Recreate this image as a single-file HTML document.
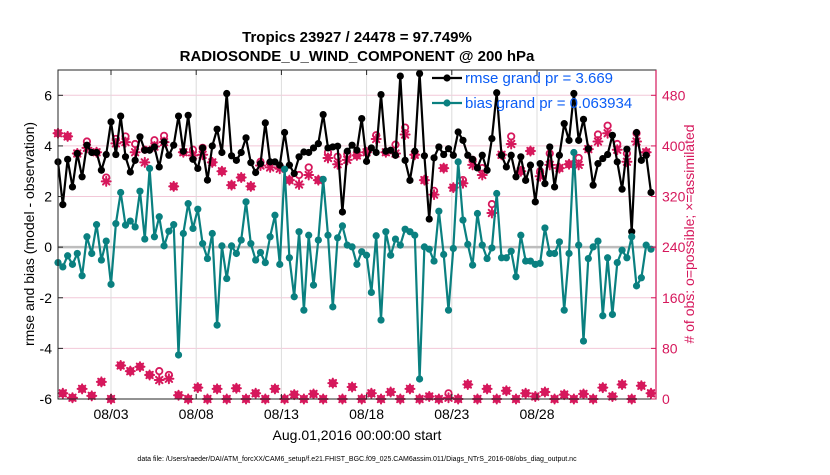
<!DOCTYPE html>
<html><head><meta charset="utf-8"><style>
body{margin:0;background:#fff;}
svg text{font-family:"Liberation Sans",sans-serif;}
</style></head><body>
<svg id="chart" width="830" height="470" viewBox="0 0 830 470" xmlns="http://www.w3.org/2000/svg">
<text x="357" y="42" text-anchor="middle" font-size="15" font-weight="bold">Tropics 23927 / 24478 = 97.749%</text>
<text x="357" y="61" text-anchor="middle" font-size="15" font-weight="bold">RADIOSONDE_U_WIND_COMPONENT @ 200 hPa</text>
<g id="grid"></g>
<g id="marks"></g>
<g id="axes"></g>
<text transform="translate(34,234) rotate(-90)" text-anchor="middle" font-size="14">rmse and bias (model - observation)</text>
<text transform="translate(694,234) rotate(-90)" text-anchor="middle" font-size="14" fill="#d6185c"># of obs: o=possible; ×=assimilated</text>
<text x="357" y="440" text-anchor="middle" font-size="14">Aug.01,2016 00:00:00 start</text>
<text x="357" y="461" text-anchor="middle" font-size="7">data file: /Users/raeder/DAI/ATM_forcXX/CAM6_setup/f.e21.FHIST_BGC.f09_025.CAM6assim.011/Diags_NTrS_2016-08/obs_diag_output.nc</text>
<g id="legend"></g>
</svg>
<script>
const rmse=[3.37,1.68,3.47,2.38,3.70,2.78,4.03,3.74,3.74,3.04,3.66,4.95,3.66,5.18,3.57,2.97,3.43,4.36,3.83,3.83,3.96,3.17,4.16,3.63,4.03,5.18,3.79,5.21,3.47,3.11,3.92,2.65,
4.0,4.66,3.74,6.07,3.61,3.43,3.74,4.32,3.34,2.95,3.30,4.91,3.37,3.37,3.24,4.53,3.24,2.91,3.57,3.76,3.74,3.92,4.09,5.24,3.92,3.96,3.99,1.39,3.79,4.03,
3.83,5.08,3.39,3.92,3.74,6.03,3.79,3.83,3.63,6.76,3.43,2.64,3.79,6.86,3.61,1.11,3.53,3.96,3.66,3.89,3.63,4.55,4.22,3.63,3.47,3.13,3.63,3.04,4.29,6.1,
3.63,3.17,3.63,2.78,3.57,2.64,3.24,1.79,3.30,2.51,3.96,2.38,3.63,4.88,4.22,6.07,4.22,5.05,3.89,2.45,3.30,3.50,3.66,4.42,3.37,2.29,3.87,0.61,4.53,3.43,3.63,2.16];
const bias=[-0.61,-0.78,-0.34,-0.68,-0.25,-1.13,0.41,-0.25,0.89,-0.51,0.24,-1.47,0.93,2.16,0.87,1.03,0.80,2.21,0.32,3.11,0.41,1.20,0.05,0.63,0.89,-4.26,0.54,1.72,0.74,1.50,0.14,-0.45,
0.54,-3.08,0.05,-1.24,0.05,-0.25,0.28,1.79,0.14,-0.51,-0.21,-0.61,0.41,1.26,-0.68,3.08,-0.42,-1.96,0.61,-2.49,0.47,-1.50,0.28,2.68,0.47,-2.36,0.37,0.84,0.08,0.01,
-0.68,-0.18,-0.32,-1.79,0.45,-2.88,0.61,-0.32,0.32,0.08,0.71,0.61,0.47,-5.21,0.01,-0.08,-0.55,1.42,-0.29,-2.49,-0.05,3.37,1.07,0.11,-0.71,1.33,0.08,-0.45,-0.03,2.12,
-0.42,-0.42,-0.16,-1.17,0.47,-0.55,-0.55,-0.68,-0.64,0.76,-0.25,-0.25,0.21,-2.49,-0.25,3.74,0.08,-3.71,-0.45,0.01,0.24,-2.71,-0.42,-2.66,-0.61,-0.12,-0.42,0.41,-1.53,-1.21,0.08,-0.08];
const possible=[420,9,415,2,388,16,407,5,390,27,350,0,411,53,415,44,403,51,394,38,409,44,416,38,336,6,390,0,394,18,397,0,
374,16,360,0,338,17,350,0,336,9,375,0,373,16,367,0,346,7,354,0,366,8,346,0,390,25,383,0,387,19,
385,0,390,9,417,0,390,11,402,0,429,16,386,0,346,4,329,0,365,9,334,0,346,23,378,0,365,16,308,0,
386,13,415,0,360,9,392,4,360,11,388,0,365,7,371,0,381,8,395,0,418,18,432,4,403,23,388,0,420,21,390,9];
const assimilated=[420,9,415,2,388,16,397,5,390,27,344,0,404,53,406,44,390,51,374,38,399,30,406,32,336,6,390,0,385,18,386,0,
374,16,360,0,338,17,350,0,336,9,369,0,366,16,364,0,346,7,339,0,354,8,346,0,381,25,371,0,378,19,
385,0,390,9,411,0,390,11,388,0,418,16,386,0,346,4,323,0,365,2,334,0,341,23,370,0,354,16,294,0,
386,13,403,0,360,9,392,4,352,11,370,0,365,7,371,0,370,8,395,0,407,18,420,4,394,23,375,0,407,21,390,9];
const leftTicks=[-6,-4,-2,0,2,4,6];
const rightTicks=[0,80,160,240,320,400,480];
const xTickDays=[2,7,12,17,22,27];
const xTickLabels=["08/03","08/08","08/13","08/18","08/23","08/28"];

const NS="http://www.w3.org/2000/svg";
const L=58,R=656,T=70,B=399;
const yL=v=>B-(v-(-6))/(7-(-6))*(B-T);
const yR=v=>B-v/520*(B-T);
const xI=i=>L+i*(651-58)/123;
const xD=d=>111+(d-2)*17.04;
function mk(tag,attrs,parent){const e=document.createElementNS(NS,tag);for(const k in attrs)e.setAttribute(k,attrs[k]);parent.appendChild(e);return e;}
const grid=document.getElementById('grid'),marks=document.getElementById('marks'),axes=document.getElementById('axes'),legend=document.getElementById('legend');
const PINK="#d6185c",TEAL="#0a8080";

leftTicks.forEach(v=>{const l=mk('line',{x1:L,x2:R,y1:yL(v),y2:yL(v),stroke:'#f2c8d8','stroke-width':1},grid);

});
xTickDays.forEach(d=>{const l=mk('line',{x1:xD(d),x2:xD(d),y1:T,y2:B,stroke:'#dcdcdc','stroke-width':1},grid);

});
const z=mk('line',{x1:L,x2:R,y1:yL(0),y2:yL(0),stroke:'#bdbdbd','stroke-width':2.5},grid);



function series(vals,color,name){
 const pts=vals.map((v,i)=>xI(i).toFixed(1)+','+yL(v).toFixed(1)).join(' ');
 const pl=mk('polyline',{points:pts,fill:'none',stroke:color,'stroke-width':2.2,'stroke-linejoin':'round'},marks);
 
 
 vals.forEach((v,i)=>{const c=mk('circle',{cx:xI(i),cy:yL(v),r:3.6,fill:color},marks);
 
 });
}
function star(x,y,p){const g=mk('g',{stroke:PINK,'stroke-width':2,'stroke-linecap':'round'},p);
 mk('line',{x1:x-4.5,x2:x+4.5,y1:y,y2:y},g);mk('line',{x1:x,x2:x,y1:y-4.5,y2:y+4.5},g);
 mk('line',{x1:x-3.2,x2:x+3.2,y1:y-3.2,y2:y+3.2},g);mk('line',{x1:x-3.2,x2:x+3.2,y1:y+3.2,y2:y-3.2},g);return g;}
possible.forEach((v,i)=>{const c=mk('circle',{cx:xI(i),cy:yR(v),r:3.2,fill:'none',stroke:PINK,'stroke-width':1.8},marks);
 
 });
assimilated.forEach((v,i)=>{const g=star(xI(i),yR(v),marks);
 
 });
series(rmse,'#000','rmse');
series(bias,TEAL,'bias');

mk('rect',{x:L,y:T,width:R-L,height:B-T,fill:'none',stroke:'#262626','stroke-width':1},axes);
mk('line',{x1:R,x2:R,y1:T,y2:B,stroke:PINK,'stroke-width':1.2},axes);
leftTicks.forEach(v=>{mk('line',{x1:L,x2:L+5,y1:yL(v),y2:yL(v),stroke:'#262626'},axes);
 const t=mk('text',{x:L-6,y:yL(v)+5,'text-anchor':'end','font-size':14},axes);t.textContent=v;
 
 });
rightTicks.forEach(v=>{mk('line',{x1:R-5,x2:R,y1:yR(v),y2:yR(v),stroke:PINK},axes);
 const t=mk('text',{x:R+6,y:yR(v)+5,'font-size':14,fill:PINK},axes);t.textContent=v;
 
 });
xTickDays.forEach((d,k)=>{mk('line',{x1:xD(d),x2:xD(d),y1:B,y2:B-5,stroke:'#262626'},axes);mk('line',{x1:xD(d),x2:xD(d),y1:T,y2:T+5,stroke:'#262626'},axes);
 const t=mk('text',{x:xD(d),y:B+20,'text-anchor':'middle','font-size':14},axes);t.textContent=xTickLabels[k];
 
 });

[['#000','rmse grand pr = 3.669',78,'legend-rmse'],[TEAL,'bias grand pr = 0.063934',103,'legend-bias']].forEach(([c,txt,y,n])=>{
 const g=mk('g',{},legend);
 
 
 mk('line',{x1:432,x2:462,y1:y,y2:y,stroke:c,'stroke-width':2.2},g);
 mk('circle',{cx:447,cy:y,r:3.6,fill:c},g);
 const t=mk('text',{x:465,y:y+5,'font-size':15,fill:'#0a5cf5'},g);t.textContent=txt;});
</script>
</body></html>
